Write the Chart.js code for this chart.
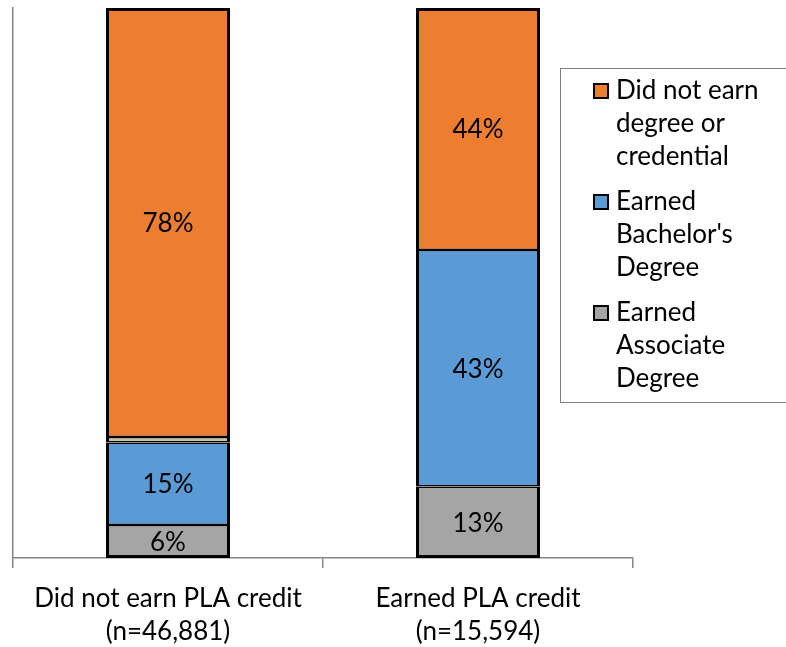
<!DOCTYPE html>
<html>
<head>
<meta charset="utf-8">
<script src="https://cdn.jsdelivr.net/npm/chart.js@4.4.1/dist/chart.umd.min.js"></script>
<style>
    html, body { margin: 0; padding: 0; background: #fff; }
    #wrap { width: 786px; height: 647px; }
</style>
</head>
<body>
<div id="wrap"><canvas id="barChart"></canvas></div>
<script>
/** --------------------DATA-------------------- */

const categories = [
    ['Did not earn PLA credit', '(n=46,881)'],
    ['Earned PLA credit', '(n=15,594)']
];
const associateValues = [6, 13];
const bachelorValues = [15, 43];
const otherValues = [1, 0];          // thin unlabeled sliver on the first bar
const noDegreeValues = [78, 44];

const legendLabels = [
    ['Did not earn', 'degree or', 'credential'],
    ['Earned', "Bachelor's", 'Degree'],
    ['Earned', 'Associate', 'Degree']
];

const FONT = 'Lato, "Open Sans", sans-serif';

/** --------------------PLUGINS-------------------- */

// percentage text in the middle of each segment
const segmentLabels = {
    id: 'segmentLabels',
    afterDatasetsDraw(chart) {
        const ctx = chart.ctx;
        ctx.save();
        ctx.font = '26px ' + FONT;
        ctx.fillStyle = '#000';
        ctx.textAlign = 'center';
        ctx.textBaseline = 'middle';
        chart.data.datasets.forEach((ds, i) => {
            if (ds.noLabel) return;
            chart.getDatasetMeta(i).data.forEach((bar, j) => {
                let v = ds.data[j];
                if (!v) return;
                let y = (bar.y + bar.base) / 2;
                ctx.fillText(v + '%', bar.x, y + 1);
            });
        });
        ctx.restore();
    }
};

// boxed legend with wrapped labels, sitting over the right side
const boxLegend = {
    id: 'boxLegend',
    afterDraw(chart) {
        const ctx = chart.ctx;
        const order = [3, 1, 0];   // dataset index for each legend entry
        ctx.save();
        ctx.strokeStyle = '#7f7f7f';
        ctx.lineWidth = 1;
        ctx.fillStyle = '#fff';
        ctx.fillRect(560, 68, 240, 334);
        ctx.strokeRect(560.5, 68.5, 240, 334);

        ctx.font = '26px ' + FONT;
        ctx.textBaseline = 'middle';
        ctx.textAlign = 'left';
        let y = 91;
        order.forEach((dsIndex, k) => {
            let ds = chart.data.datasets[dsIndex];
            ctx.fillStyle = ds.backgroundColor;
            ctx.fillRect(594, y - 7, 14, 14);
            ctx.strokeStyle = '#000';
            ctx.lineWidth = 2;
            ctx.strokeRect(594, y - 7, 14, 14);
            ctx.fillStyle = '#000';
            legendLabels[k].forEach((line, n) => {
                ctx.fillText(line, 616, y + n * 33);
            });
            y += 111;
        });
        ctx.restore();
    }
};

/** --------------------CHART-------------------- */

const ctx = document.getElementById('barChart').getContext('2d');
const barChart = new Chart(ctx, {
    type: 'bar',
    data: {
        labels: categories,
        datasets: [
            {
                label: 'Earned Associate Degree',
                data: associateValues,
                backgroundColor: '#a5a5a5',
                borderWidth: {left: 3, right: 3, top: 1.5, bottom: 3},
            },
            {
                label: "Earned Bachelor's Degree",
                data: bachelorValues,
                backgroundColor: '#5b9bd5',
            },
            {
                label: 'Other',
                data: otherValues,
                backgroundColor: '#c4c8a6',
                noLabel: true,
            },
            {
                label: 'Did not earn degree or credential',
                data: noDegreeValues,
                backgroundColor: '#ed7d31',
                borderWidth: {left: 3, right: 3, top: 3, bottom: 1.5},
            }
        ].map(ds => Object.assign({
            borderColor: '#000',
            borderWidth: {left: 3, right: 3, top: 1.5, bottom: 1.5},
            borderSkipped: false,
            barPercentage: 0.4,
            categoryPercentage: 1,
        }, ds))
    },
    options: {
        responsive: true,
        maintainAspectRatio: false,
        animation: false,
        layout: {
            padding: {left: 13, right: 153, top: 8, bottom: -15}
        },
        plugins: {
            legend: {display: false},
            tooltip: {enabled: false},
        },
        scales: {
            x: {
                stacked: true,
                grid: {
                    display: true,
                    drawOnChartArea: false,
                    drawTicks: true,
                    tickLength: 10,
                    color: '#868686',
                    lineWidth: 1.5,
                    offset: true,
                },
                border: {display: true, color: '#868686', width: 1.5},
                ticks: {
                    color: '#000',
                    padding: 14,
                    maxRotation: 0,
                    font: {family: FONT, size: 26, lineHeight: 1.27},
                },
            },
            y: {
                stacked: true,
                min: 0,
                max: 100,
                grid: {display: false, drawTicks: false},
                border: {display: true, color: '#868686', width: 1.5},
                ticks: {display: false},
            }
        }
    },
    plugins: [segmentLabels, boxLegend]
});
</script>
</body>
</html>
